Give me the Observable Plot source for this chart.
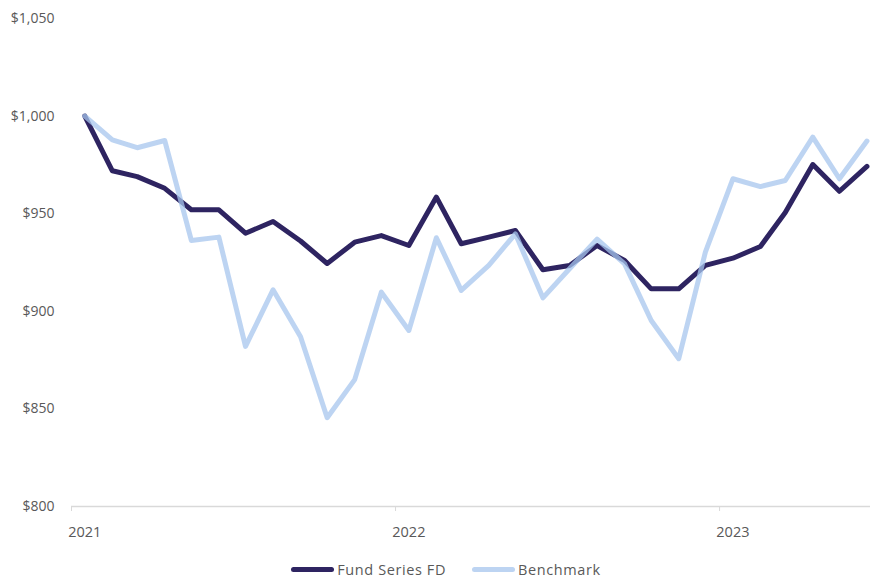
<!DOCTYPE html>
<html>
<head>
<meta charset="utf-8">
<script src="https://cdn.jsdelivr.net/npm/d3@7"></script>
<script src="https://cdn.jsdelivr.net/npm/@observablehq/plot@0.6"></script>
<style>
  html, body { margin: 0; padding: 0; background: #fff; }
  body { width: 870px; height: 578px; overflow: hidden; font-family: "Open Sans", sans-serif; }
  #legend { display: flex; justify-content: center; align-items: center; gap: 26px; padding-left: 22px; margin-top: 8px; height: 33px; font-size: 14.5px; letter-spacing: 0.6px; color: #595959; }
  .item { display: flex; align-items: center; gap: 3px; }
  .sw { width: 43px; height: 5px; border-radius: 3px; }
</style>
</head>
<body>
<div id="chart"></div>
<div id="legend"></div>
<script>
const months = d3.range(30).map(i => new Date(Date.UTC(2021, i, 16)));
const fund = [1000, 972, 969, 963, 952, 952, 940, 946, 936, 924.5,
  935.4, 938.8, 933.7, 958.5, 934.6, 938, 941.4, 921.3, 923.5, 933.7,
  926, 911.5, 911.5, 923.5, 927.2, 933.2, 950.6, 975.2, 961.5, 974.2];
const benchmark = [1000, 987.8, 983.8, 987.5, 936.3, 938, 882, 911, 887, 845.5,
  865, 909.8, 890.2, 937.7, 910.7, 923.5, 939.7, 906.9, 921.8, 937,
  924.3, 895.3, 875.7, 930.3, 967.9, 963.9, 967, 989.2, 967.9, 987.2];
const seriesNames = ["Fund Series FD", "Benchmark"];
const seriesColors = ["#2e2461", "#bdd4f2"];
const benchStroke = "#a7c6ee";
const yTicks = [800, 850, 900, 950, 1000, 1050];
const yearTicks = [2021, 2022, 2023];

const fundData = months.map((d, i) => ({date: d, value: fund[i]}));
const benchData = months.map((d, i) => ({date: d, value: benchmark[i]}));
const yearStarts = yearTicks.map(y => new Date(Date.UTC(y, 0, 1)));
const yearMids = yearTicks.map(y => ({date: new Date(Date.UTC(y, 0, 16)), label: String(y)}));

const plot = Plot.plot({
  width: 870,
  height: 545,
  marginLeft: 71,
  marginRight: 0,
  marginTop: 18,
  marginBottom: 39,
  style: {fontFamily: "Open Sans, sans-serif", fontSize: "14px", color: "#595959", background: "#fff"},
  x: {type: "utc", domain: [new Date(Date.UTC(2021, 0, 1)), new Date(Date.UTC(2023, 5, 20))], label: null},
  y: {domain: [800, 1050], label: null},
  marks: [
    Plot.ruleY([800], {stroke: "#d9d9d9", strokeWidth: 1.3}),
    Plot.axisX({ticks: yearStarts, tickSize: 5, stroke: "#d9d9d9", tickFormat: () => "", label: null}),
    Plot.text(yearMids, {x: "date", y: 800, text: "label", dy: 26, fill: "#595959", fontSize: 14.5}),
    Plot.axisY({ticks: yTicks, tickSize: 0, tickPadding: 17, tickFormat: d => "$" + d3.format(",")(d), fill: "#595959", fontSize: 14, label: null}),
    Plot.lineY(fundData, {x: "date", y: "value", stroke: seriesColors[0], strokeWidth: 5, strokeLinejoin: "round", strokeLinecap: "round"}),
    Plot.lineY(benchData, {x: "date", y: "value", stroke: benchStroke, strokeOpacity: 0.75, strokeWidth: 5, strokeLinejoin: "round", strokeLinecap: "round"})
  ]
});
document.getElementById("chart").appendChild(plot);

const legend = document.getElementById("legend");
seriesNames.forEach((name, i) => {
  const item = document.createElement("div");
  item.className = "item";
  const sw = document.createElement("div");
  sw.className = "sw";
  sw.style.background = seriesColors[i];
  const t = document.createElement("span");
  t.textContent = name;
  item.appendChild(sw);
  item.appendChild(t);
  legend.appendChild(item);
});
</script>
</body>
</html>
